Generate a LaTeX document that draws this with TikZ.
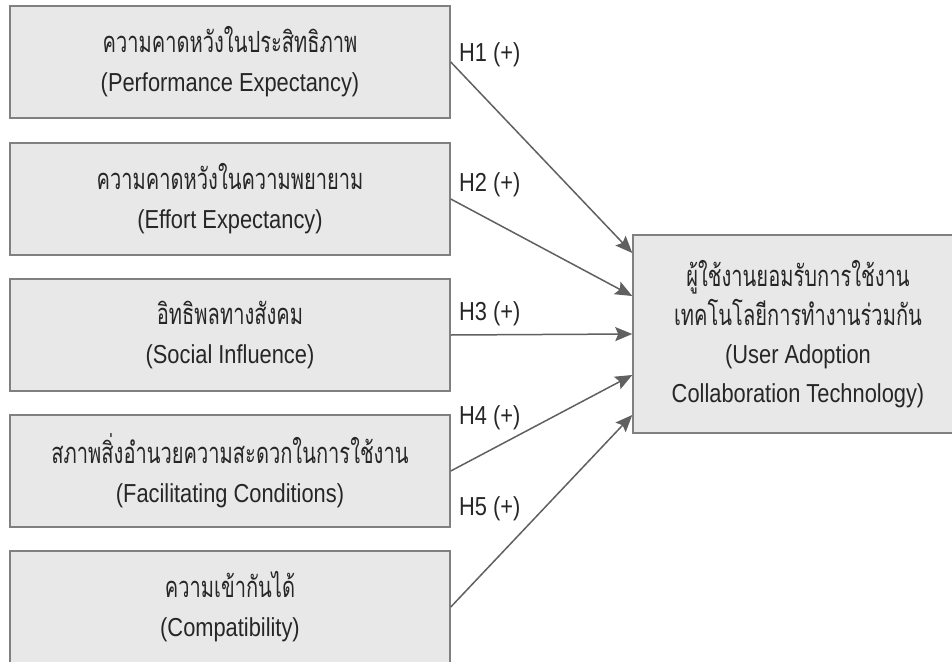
\documentclass[tikz,border=0pt]{standalone}
\usepackage{fontspec}
\setmainfont[FakeStretch=0.84]{Liberation Sans}
\newfontfamily\thaifont[Script=Thai,Scale=1.12,FakeStretch=0.69]{Loma}
\usetikzlibrary{arrows.meta}
\definecolor{boxfill}{HTML}{E8E8E8}
\definecolor{boxline}{HTML}{808080}
\definecolor{arrowcol}{HTML}{606060}
\definecolor{textcol}{HTML}{262626}
\tikzset{
  srcbox/.style={draw=boxline, fill=boxfill, line width=1.5pt,
    minimum width=440pt, minimum height=112pt, inner sep=0pt,
    text=textcol, align=center, font=\fontsize{26}{39}\selectfont},
  tgtbox/.style={draw=boxline, fill=boxfill, line width=1.5pt,
    minimum width=330pt, minimum height=198pt, inner sep=0pt,
    text=textcol, align=center, font=\fontsize{26}{38.5}\selectfont},
  lbl/.style={anchor=west, inner sep=0pt, text=textcol,
    font=\fontsize{26}{30}\selectfont},
  hyp/.style={draw=arrowcol, line width=1.5pt,
    -{Stealth[length=17pt,width=14pt,inset=3pt]}}
}
\begin{document}
\begin{tikzpicture}[x=1pt,y=-1pt]
\useasboundingbox (0,0) rectangle (952,661);
\node[srcbox] (b1) at (230,62) {{\thaifont ความคาดหวังในประสิทธิภาพ}\\(Performance Expectancy)};
\node[srcbox] (b2) at (230,199) {{\thaifont ความคาดหวังในความพยายาม}\\(Effort Expectancy)};
\node[srcbox] (b3) at (230,335) {{\thaifont อิทธิพลทางสังคม}\\(Social Influence)};
\node[srcbox] (b4) at (230,471) {{\thaifont สภาพสิ่งอำนวยความสะดวกในการใช้งาน}\\(Facilitating Conditions)};
\node[srcbox] (b5) at (230,607) {{\thaifont ความเข้ากันได้}\\(Compatibility)};
\node[tgtbox] (t) at (798,334) {{\thaifont ผู้ใช้งานยอมรับการใช้งาน}\\{\thaifont เทคโนโลยีการทำงานร่วมกัน}\\(User Adoption\\Collaboration Technology)};
\draw[hyp] (b1.east) -- ([yshift=81pt]t.west);
\draw[hyp] (b2.east) -- ([yshift=38pt]t.west);
\draw[hyp] (b3.east) -- (t.west);
\draw[hyp] (b4.east) -- ([yshift=-41pt]t.west);
\draw[hyp] (b5.east) -- ([yshift=-81pt]t.west);
\node[lbl] (l1) at (459,55) {H1 (+)};
\node[lbl] (l2) at (459,185) {H2 (+)};
\node[lbl] (l3) at (459,314) {H3 (+)};
\node[lbl] (l4) at (459,418) {H4 (+)};
\node[lbl] (l5) at (459,509) {H5 (+)};
\end{tikzpicture}
\end{document}
